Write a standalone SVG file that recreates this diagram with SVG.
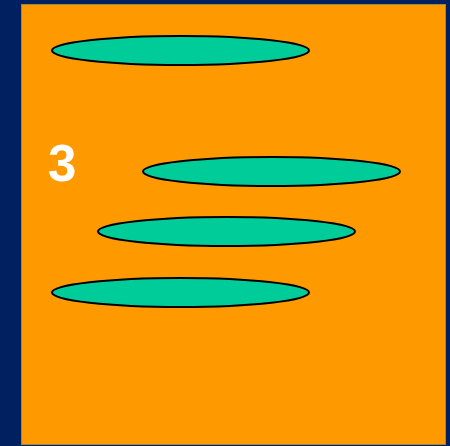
<svg xmlns="http://www.w3.org/2000/svg" width="450" height="446" viewBox="0 0 450 446">
<style>
.e{fill:#00CC99;stroke:#000;stroke-width:2}
.t{font-family:"Liberation Sans",Arial,sans-serif;font-weight:bold;fill:#fff}
</style>
<rect x="0" y="0" width="450" height="446" fill="#002060"/>
<rect x="21.5" y="4.5" width="424" height="440" fill="#FF9900" stroke="#9a8a3a" stroke-width="1"/>
<text class="t" x="48" y="181" font-size="51">3</text>
<g id="connectors"></g>
<g id="e1"><ellipse class="e" cx="180.5" cy="50.5" rx="128.5" ry="14.5"/></g>
<g id="e2"><ellipse class="e" cx="271.5" cy="171.5" rx="128.5" ry="14.5"/></g>
<g id="e3"><ellipse class="e" cx="226.5" cy="231.5" rx="128.5" ry="14.5"/></g>
<g id="e4"><ellipse class="e" cx="180.5" cy="292.5" rx="128.5" ry="14.5"/></g>
</svg>
